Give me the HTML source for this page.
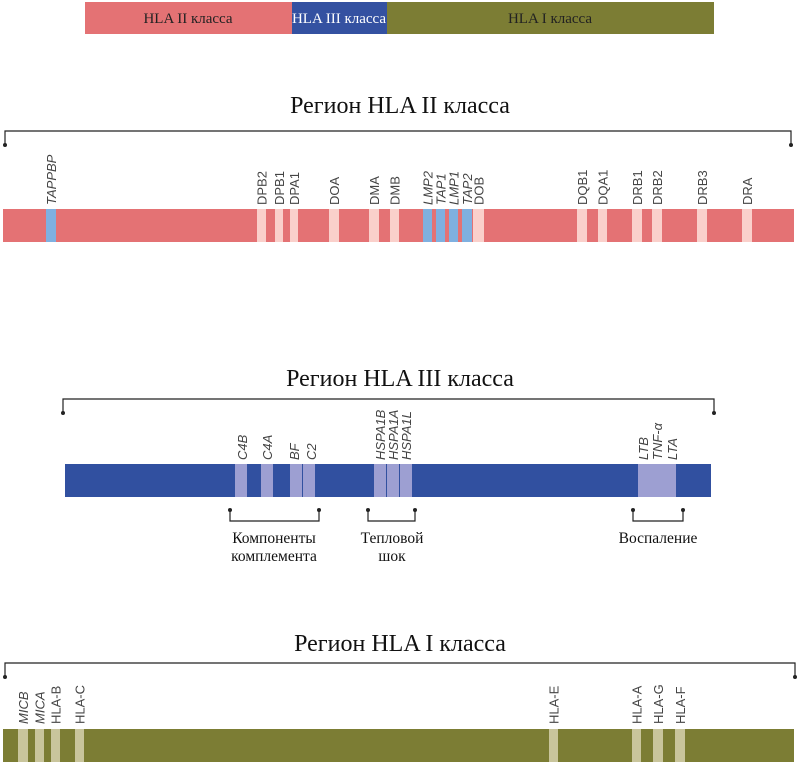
<!DOCTYPE html>
<html><head><meta charset="utf-8">
<style>
body{margin:0;background:#fff;}
svg{display:block;}
.gl{font-family:"Liberation Sans","DejaVu Sans",sans-serif;font-size:13px;fill:#444;}
.ser{font-family:"Liberation Serif","Noto Serif CJK SC",serif;}
</style></head>
<body>
<svg id="fig" width="800" height="765" viewBox="0 0 800 765" xmlns="http://www.w3.org/2000/svg">
  <g>
    <rect x="85" y="2" width="207" height="32" fill="#e47274"/>
    <rect x="292" y="2" width="95" height="32" fill="#3451a1"/>
    <rect x="387" y="2" width="327" height="32" fill="#7c7d34"/>
    <text class="ser" x="188" y="23" font-size="15" text-anchor="middle" fill="#222">HLA II класса</text>
    <text class="ser" x="339" y="23" font-size="15" text-anchor="middle" fill="#fff">HLA III класса</text>
    <text class="ser" x="550" y="23" font-size="15" text-anchor="middle" fill="#222">HLA I класса</text>
  </g>
</svg>
<script>
// Class II genes
const c2Names = ["TAPPBP","DPB2","DPB1","DPA1","DOA","DMA","DMB","LMP2","TAP1","LMP1","TAP2","DOB","DQB1","DQA1","DRB1","DRB2","DRB3","DRA"];
const c2Start = [46,257,275,290,329,369,390,423,436,449,462,473,577,598,632,652,697,742];
const c2End   = [56,266,283,298,339,379,399,432,445,458,472,484,587,607,642,662,707,752];
const c2Blue  = [1,0,0,0,0,0,0,1,1,1,1,0,0,0,0,0,0,0];
const c2Italic= [1,0,0,0,0,0,0,1,1,1,1,0,0,0,0,0,0,0];
// Class III genes
const c3Names = ["C4B","C4A","BF","C2","HSPA1B","HSPA1A","HSPA1L","LTB","TNF-α","LTA"];
const c3Start = [235,261,290,303,374,387,400,638,651,664];
const c3End   = [247,273,302,315,386,399,412,651,664,676];
const c3Labelx= [242,267,294,311,380,393,406,643,657,672];
// Class I genes
const c1Names = ["MICB","MICA","HLA-B","HLA-C","HLA-E","HLA-A","HLA-G","HLA-F"];
const c1Start = [18,35,51,75,549,632,653,675];
const c1End   = [28,44,60,84,558,641,663,685];
const c1Italic= [1,1,0,0,0,0,0,0];

const NS="http://www.w3.org/2000/svg";
const svg=document.getElementById('fig');
function mk(tag,attrs,parent){const e=document.createElementNS(NS,tag);for(const k in attrs)e.setAttribute(k,attrs[k]);(parent||svg).appendChild(e);return e;}

function bracketTop(x1,x2,y,title,ty){
  const g=mk('g',{});
  
  
  mk('path',{d:`M${x1} ${y+13} V${y} H${x2} V${y+13}`,fill:'none',stroke:'#222','stroke-width':1.2},g);
  mk('circle',{cx:x1,cy:y+14,r:2,fill:'#222'},g);
  mk('circle',{cx:x2,cy:y+14,r:2,fill:'#222'},g);
  const t=mk('text',{x:400,y:ty,'font-size':24,'text-anchor':'middle',fill:'#111',class:'ser'});
  
  
  t.textContent=title;
}
function label(x,yb,txt,italic){
  const t=mk('text',{class:'gl',transform:`translate(${x+5},${yb}) rotate(-90)`});
  if(italic)t.setAttribute('font-style','italic');
  
  
  t.textContent=txt;
}

// Class II
bracketTop(5,791,131,"Регион HLA II класса",113);
let b=mk('rect',{x:3,y:209,width:791,height:33,fill:'#e47274'});


c2Names.forEach((n,i)=>{
  const r=mk('rect',{x:c2Start[i],y:209,width:c2End[i]-c2Start[i],height:33,fill:c2Blue[i]?'#7fb0e0':'#fad0cb'});
  
  
  label((c2Start[i]+c2End[i])/2,205,n,c2Italic[i]);
});

// Class III
bracketTop(63,714,399,"Регион HLA III класса",386);
b=mk('rect',{x:65,y:464,width:646,height:33,fill:'#3150a0'});


c3Names.forEach((n,i)=>{
  const r=mk('rect',{x:c3Start[i],y:464,width:c3End[i]-c3Start[i]-(i<6&&c3End[i]===c3Start[i+1]?1:0),height:33,fill:'#9d9fd2'});
  
  
  label(c3Labelx[i],460,n,true);
});
function bracketBottom(x1,x2,name,lines,tx){
  const g=mk('g',{});
  
  
  mk('path',{d:`M${x1} 510 V521 H${x2} V510`,fill:'none',stroke:'#222','stroke-width':1.2},g);
  mk('circle',{cx:x1,cy:510,r:2,fill:'#222'},g);
  mk('circle',{cx:x2,cy:510,r:2,fill:'#222'},g);
  lines.forEach((l,k)=>{
    const t=mk('text',{x:tx,y:543+k*18,'font-size':15.5,'text-anchor':'middle',fill:'#111',class:'ser'},g);
    t.textContent=l;
  });
}
bracketBottom(230,319,'complement-group',["Компоненты","комплемента"],274);
bracketBottom(368,415,'heat-shock-group',["Тепловой","шок"],392);
bracketBottom(633,683,'inflammation-group',["Воспаление"],658);

// Class I
bracketTop(5,795,663,"Регион HLA I класса",651);
b=mk('rect',{x:3,y:729,width:791,height:33,fill:'#7c7d34'});


c1Names.forEach((n,i)=>{
  const r=mk('rect',{x:c1Start[i],y:729,width:c1End[i]-c1Start[i],height:33,fill:'#c9c59c'});
  
  
  label((c1Start[i]+c1End[i])/2,724,n,c1Italic[i]);
});
</script>
</body></html>
